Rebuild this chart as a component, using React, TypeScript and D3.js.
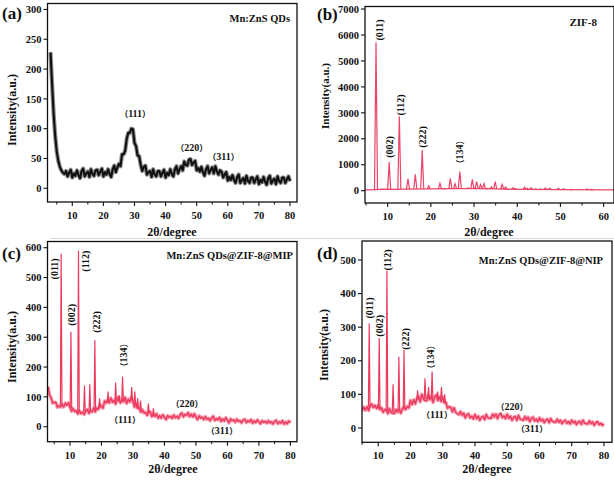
import React from "react";
import * as d3 from "d3";

const W = 614;
const H = 480;
const SERIF = "'Liberation Serif','DejaVu Serif','Times New Roman',serif";
const CJK = "'Noto Sans CJK SC','Liberation Serif',serif";

// ---------- (a) Mn:ZnS QDs : intensity sampled every 0.5 deg from 3 to 80 ----------
const aStart = 3;
const aStep = 0.5;
const aIntensity = [
  228, 175, 125, 88, 62, 46, 36, 30, 26, 24,
  29, 20, 26, 31, 18, 25, 21, 30, 22, 17,
  29, 33, 20, 25, 28, 19, 32, 24, 21, 30,
  31, 22, 28, 33, 20, 27, 23, 32, 24, 19,
  32, 38, 27, 35, 41, 37, 57, 57, 63, 83,
  93, 93, 100, 99, 76, 71, 55, 54, 39, 29,
  36, 38, 23, 27, 29, 19, 32, 23, 20, 29,
  29, 20, 26, 31, 18, 26, 22, 32, 24, 20,
  32, 37, 25, 32, 37, 30, 45, 39, 38, 48,
  49, 39, 43, 46, 30, 34, 28, 36, 27, 21,
  32, 37, 25, 31, 35, 25, 37, 28, 23, 30,
  28, 18, 23, 27, 13, 19, 14, 22, 14, 9,
  19, 23, 9, 14, 17, 8, 21, 12, 9, 18,
  18, 9, 15, 20, 7, 14, 10, 19, 11, 6,
  17, 21, 8, 13, 16, 7, 20, 12, 9, 18,
  18, 9, 15, 20, 12,
];
const aXTicks = [10, 20, 30, 40, 50, 60, 70, 80];
const aYTicks = [0, 50, 100, 150, 200, 250, 300];
const aLabels = [
  { text: "（111）", x: 30.2, y: 119.6, rot: false },
  { text: "（220）", x: 48.4, y: 62.6, rot: false },
  { text: "（311）", x: 58.6, y: 47.5, rot: false },
];

// ---------- (b) ZIF-8 : baseline + diffraction peaks [2theta, top, base] ----------
const bBaseline: [number, number][] = [
  [4.75, 30], [6, 30], [7, 40], [9, 55], [11, 50], [14, 60], [20, 70],
  [25, 80], [30, 80], [35, 70], [40, 50], [50, 40], [62.4, 30],
];
const bPeaks: [number, number, number][] = [
  [7.3, 5720, 40], [10.35, 1100, 50], [12.7, 2870, 55], [14.7, 460, 60],
  [16.4, 630, 65], [18.0, 1560, 65], [19.5, 190, 70], [22.1, 290, 75],
  [23.1, 70, 75], [24.5, 480, 80], [25.6, 270, 80], [26.7, 740, 80],
  [28.6, 110, 80], [29.6, 440, 80], [30.6, 350, 78], [31.5, 240, 76],
  [32.3, 270, 75], [33.0, 90, 74], [34.0, 150, 72], [34.9, 350, 70],
  [36.5, 240, 65], [37.3, 140, 62], [39.0, 110, 55], [39.6, 80, 52],
  [41.7, 140, 48], [42.3, 90, 48], [43.2, 110, 47], [44.3, 70, 46],
  [45.4, 70, 45], [46.5, 100, 44], [47.5, 90, 43], [49.5, 90, 41],
  [50.7, 80, 40], [52.5, 50, 38], [56.2, 70, 35], [57.2, 50, 34],
];
const bXTicks = [10, 20, 30, 40, 50, 60];
const bYTicks = [0, 1000, 2000, 3000, 4000, 5000, 6000, 7000];
const bLabels = [
  { text: "(011)", x: 7.99, y: 6193, rot: true },
  { text: "(002)", x: 10.3, y: 1684, rot: true },
  { text: "(112)", x: 12.85, y: 3303, rot: true },
  { text: "(222)", x: 17.94, y: 2070, rot: true },
  { text: "（134）", x: 26.5, y: 1491, rot: true },
];

// ---------- (c) Mn:ZnS QDs@ZIF-8@MIP : background every 0.5 deg from 3 to 80 ----------
const cStart = 3;
const cStep = 0.5;
const cIntensity = [
  134, 107, 97, 79, 82, 81, 65, 70, 66, 75,
  66, 79, 72, 80, 66, 52, 61, 51, 53, 43,
  53, 44, 49, 41, 52, 58, 45, 53, 50, 61,
  50, 62, 58, 74, 70, 62, 86, 80, 90, 80,
  96, 82, 88, 76, 93, 100, 80, 90, 84, 98,
  78, 92, 83, 100, 84, 66, 78, 62, 61, 49,
  57, 46, 48, 38, 47, 50, 34, 40, 35, 43,
  29, 37, 29, 40, 32, 24, 37, 31, 35, 28,
  39, 30, 35, 28, 40, 46, 33, 41, 38, 47,
  34, 42, 33, 43, 33, 24, 36, 29, 32, 24,
  34, 25, 28, 20, 30, 35, 21, 27, 23, 31,
  18, 26, 19, 30, 22, 13, 26, 20, 23, 15,
  25, 18, 20, 13, 22, 25, 14, 20, 16, 24,
  12, 19, 14, 23, 16, 10, 20, 15, 18, 12,
  20, 13, 16, 9, 18, 21, 10, 16, 12, 20,
  9, 16, 10, 19, 13,
];
const cPeaks: [number, number, number][] = [
  [7.2, 580, 72], [10.3, 318, 62], [12.7, 590, 50], [14.6, 138, 50],
  [16.3, 142, 50], [17.9, 290, 56], [19.4, 95, 62], [22.1, 118, 80],
  [24.5, 148, 82], [25.6, 105, 84], [26.7, 168, 86], [29.6, 133, 86],
  [30.6, 118, 72], [31.5, 95, 62], [32.4, 88, 58], [34.9, 78, 46],
  [36.5, 62, 40],
];
const cXTicks = [10, 20, 30, 40, 50, 60, 70, 80];
const cYTicks = [0, 100, 200, 300, 400, 500, 600];
const cLabels = [
  { text: "(011)", x: 4.93, y: 529, rot: true },
  { text: "(002)", x: 10.3, y: 375, rot: true },
  { text: "(112)", x: 14.8, y: 555, rot: true },
  { text: "(222)", x: 18.2, y: 351, rot: true },
  { text: "（134）", x: 26.9, y: 240, rot: true },
  { text: "（111）", x: 27.5, y: 12, rot: false },
  { text: "（220）", x: 47.2, y: 66, rot: false },
  { text: "（311）", x: 58.3, y: -24, rot: false },
];

// ---------- (d) Mn:ZnS QDs@ZIF-8@NIP : background every 0.5 deg from 5 to 80 ----------
const dStart = 5;
const dStep = 0.5;
const dIntensity = [
  51, 62, 53, 63, 52, 66, 71, 61, 67, 58,
  68, 55, 60, 47, 54, 55, 43, 57, 46, 44,
  43, 55, 47, 55, 44, 57, 63, 55, 64, 60,
  82, 70, 84, 72, 88, 94, 78, 100, 86, 82,
  81, 98, 84, 94, 76, 92, 98, 82, 92, 79,
  92, 75, 76, 59, 63, 62, 48, 60, 47, 43,
  40, 49, 38, 44, 30, 40, 42, 30, 35, 27,
  40, 28, 35, 23, 32, 35, 25, 40, 31, 29,
  29, 41, 33, 41, 28, 40, 43, 31, 36, 28,
  41, 29, 35, 23, 32, 34, 23, 37, 27, 25,
  23, 34, 25, 32, 19, 29, 32, 21, 26, 19,
  30, 21, 26, 16, 24, 26, 16, 28, 20, 18,
  17, 26, 17, 23, 13, 20, 23, 14, 19, 12,
  23, 15, 20, 10, 18, 20, 11, 23, 14, 13,
  12, 21, 13, 18, 8, 16, 19, 10, 14, 8,
  13,
];
const dPeaks: [number, number, number][] = [
  [7.2, 312, 62], [10.3, 268, 58], [12.7, 468, 50], [14.6, 130, 48],
  [16.4, 212, 50], [18.0, 232, 56], [22.2, 112, 84], [24.5, 148, 86],
  [25.6, 122, 86], [26.7, 168, 88], [28.4, 108, 90], [29.6, 122, 88],
  [30.6, 100, 76],
];
const dXTicks = [10, 20, 30, 40, 50, 60, 70, 80];
const dYTicks = [0, 100, 200, 300, 400, 500];
const dLabels = [
  { text: "(011)", x: 7.13, y: 357, rot: true },
  { text: "(002)", x: 10.2, y: 304, rot: true },
  { text: "(112)", x: 12.7, y: 500, rot: true },
  { text: "(222)", x: 18.3, y: 265, rot: true },
  { text: "（134）", x: 26.05, y: 211, rot: true },
  { text: "（111）", x: 28.2, y: 30, rot: false },
  { text: "（220）", x: 51.5, y: 53.6, rot: false },
  { text: "（311）", x: 57.7, y: -12, rot: false },
];

type Label = { text: string; x: number; y: number; rot: boolean };

type PanelCfg = {
  id: string;
  letter: string;
  letterX: number;
  letterY: number;
  title: string;
  titleX: number;
  titleY: number;
  titleSize: number;
  left: number;
  right: number;
  top: number;
  bottom: number;
  xDomain: [number, number];
  yDomain: [number, number];
  xTicks: number[];
  yTicks: number[];
  series: [number, number][];
  peaks: [number, number, number][];
  peakHalf: number;
  core: string;
  coreWidth: number;
  fringe: string | null;
  fringeWidth: number;
  labels: Label[];
  yTitleX: number;
  yTitleY: number;
  yTitleSize: number;
  xTitleX: number;
  xTitleY: number;
};

const sampled = (start: number, step: number, vals: number[]): [number, number][] =>
  vals.map((v, i) => [start + i * step, v]);

const panels: PanelCfg[] = [
  {
    id: "a", letter: "(a)", letterX: 2, letterY: 19,
    title: "Mn:ZnS QDs", titleX: 290, titleY: 22, titleSize: 10.5,
    left: 47.5, right: 297, top: 3.5, bottom: 202,
    xDomain: [2.03, 82.25], yDomain: [-23, 310],
    xTicks: aXTicks, yTicks: aYTicks,
    series: sampled(aStart, aStep, aIntensity), peaks: [], peakHalf: 0.25,
    core: "#111111", coreWidth: 2.1, fringe: "#8f8f8f", fringeWidth: 4.2,
    labels: aLabels,
    yTitleX: 12, yTitleY: 110, yTitleSize: 12, xTitleX: 172, xTitleY: 236,
  },
  {
    id: "b", letter: "(b)", letterX: 317, letterY: 20,
    title: "ZIF-8", titleX: 597, titleY: 26, titleSize: 11,
    left: 365, right: 614, top: 6.5, bottom: 203,
    xDomain: [4.75, 62.4], yDomain: [-474, 7098],
    xTicks: bXTicks, yTicks: bYTicks,
    series: bBaseline, peaks: bPeaks, peakHalf: 0.35,
    core: "#ea4468", coreWidth: 1.3, fringe: null, fringeWidth: 0,
    labels: bLabels,
    yTitleX: 324.5, yTitleY: 96, yTitleSize: 11, xTitleX: 489, xTitleY: 236,
  },
  {
    id: "c", letter: "(c)", letterX: 2, letterY: 259,
    title: "Mn:ZnS QDs@ZIF-8@MIP", titleX: 293, titleY: 259, titleSize: 10.5,
    left: 47.5, right: 297, top: 241.5, bottom: 441.7,
    xDomain: [2.86, 82.1], yDomain: [-50.3, 620.8],
    xTicks: cXTicks, yTicks: cYTicks,
    series: sampled(cStart, cStep, cIntensity), peaks: cPeaks, peakHalf: 0.25,
    core: "#ec3a5f", coreWidth: 1.4, fringe: "#f6a0b2", fringeWidth: 3.6,
    labels: cLabels,
    yTitleX: 12, yTitleY: 347, yTitleSize: 12, xTitleX: 173, xTitleY: 473,
  },
  {
    id: "d", letter: "(d)", letterX: 317, letterY: 259,
    title: "Mn:ZnS QDs@ZIF-8@NIP", titleX: 603, titleY: 264, titleSize: 10.5,
    left: 362, right: 612, top: 241, bottom: 442.3,
    xDomain: [4.96, 82.5], yDomain: [-42.6, 556.5],
    xTicks: dXTicks, yTicks: dYTicks,
    series: sampled(dStart, dStep, dIntensity), peaks: dPeaks, peakHalf: 0.25,
    core: "#ec3a5f", coreWidth: 1.4, fringe: "#f6a0b2", fringeWidth: 3.6,
    labels: dLabels,
    yTitleX: 324, yTitleY: 345, yTitleSize: 12, xTitleX: 487, xTitleY: 473,
  },
];

function LabelText({ text, size }: { text: string; size: number }) {
  const chars = Array.from(text);
  return (
    <>
      {chars.map((ch, i) =>
        ch === "（" || ch === "）" ? (
          <tspan key={i} fontFamily={CJK} fontSize={size * 0.85}>
            {ch}
          </tspan>
        ) : (
          <tspan key={i}>{ch}</tspan>
        )
      )}
    </>
  );
}

function Panel({ p }: { p: PanelCfg }) {
  const x = d3.scaleLinear().domain(p.xDomain).range([p.left, p.right]);
  const y = d3.scaleLinear().domain(p.yDomain).range([p.bottom, p.top]);
  const line = d3
    .line<[number, number]>()
    .x((d) => x(d[0]))
    .y((d) => y(d[1]));
  const mainPath = line(p.series) || "";
  const peakPaths = p.peaks.map(
    ([px, top, base]) =>
      line([
        [px - p.peakHalf, base],
        [px, top],
        [px + p.peakHalf, base],
      ]) || ""
  );
  const xStep = p.xTicks[1] - p.xTicks[0];
  const xMinor = p.xTicks
    .map((t) => t - xStep / 2)
    .concat([p.xTicks[p.xTicks.length - 1] + xStep / 2])
    .filter((t) => t > p.xDomain[0] && t < p.xDomain[1]);
  const clipId = `clip-${p.id}`;
  const tickFont = 10.5;
  return (
    <g>
      <defs>
        <clipPath id={clipId}>
          <rect x={p.left} y={p.top} width={p.right - p.left} height={p.bottom - p.top} />
        </clipPath>
      </defs>
      <g clipPath={`url(#${clipId})`}>
        {p.fringe && (
          <path d={mainPath} fill="none" stroke={p.fringe} strokeWidth={p.fringeWidth} strokeLinejoin="round" />
        )}
        <path d={mainPath} fill="none" stroke={p.core} strokeWidth={p.coreWidth} strokeLinejoin="round" />
        {peakPaths.map((d, i) => (
          <path key={i} d={d} fill="none" stroke={p.core} strokeWidth={1.2} strokeLinejoin="miter" />
        ))}
      </g>
      <rect
        x={p.left}
        y={p.top}
        width={p.right - p.left}
        height={p.bottom - p.top}
        fill="none"
        stroke="#111"
        strokeWidth={1.3}
      />
      {p.xTicks.map((t) => (
        <g key={`xt${t}`}>
          <line x1={x(t)} x2={x(t)} y1={p.bottom} y2={p.bottom + 4} stroke="#111" strokeWidth={1.1} />
          <text
            x={x(t)}
            y={p.bottom + 17}
            textAnchor="middle"
            fontFamily={SERIF}
            fontWeight="bold"
            fontSize={tickFont}
            fill="#111"
          >
            {t}
          </text>
        </g>
      ))}
      {xMinor.map((t) => (
        <line key={`xm${t}`} x1={x(t)} x2={x(t)} y1={p.bottom} y2={p.bottom + 2.5} stroke="#111" strokeWidth={1} />
      ))}
      {p.yTicks.map((t) => (
        <g key={`yt${t}`}>
          <line x1={p.left - 4} x2={p.left} y1={y(t)} y2={y(t)} stroke="#111" strokeWidth={1.1} />
          <text
            x={p.left - 6}
            y={y(t)}
            dy="0.35em"
            textAnchor="end"
            fontFamily={SERIF}
            fontWeight="bold"
            fontSize={tickFont}
            fill="#111"
          >
            {t}
          </text>
        </g>
      ))}
      <text
        x={p.xTitleX}
        y={p.xTitleY}
        textAnchor="middle"
        fontFamily={SERIF}
        fontWeight="bold"
        fontSize={12}
        fill="#111"
      >
        2θ/degree
      </text>
      <text
        transform={`translate(${p.yTitleX},${p.yTitleY}) rotate(-90)`}
        textAnchor="middle"
        dominantBaseline="central"
        fontFamily={SERIF}
        fontWeight="bold"
        fontSize={p.yTitleSize}
        fill="#111"
      >
        Intensity(a.u.)
      </text>
      <text x={p.letterX} y={p.letterY} fontFamily={SERIF} fontWeight="bold" fontSize={17} fill="#111">
        {p.letter}
      </text>
      <text
        x={p.titleX}
        y={p.titleY}
        textAnchor="end"
        fontFamily={SERIF}
        fontWeight="bold"
        fontSize={p.titleSize}
        fill="#111"
      >
        {p.title}
      </text>
      {p.labels.map((l, i) =>
        l.rot ? (
          <text
            key={i}
            transform={`translate(${x(l.x)},${y(l.y)}) rotate(-90)`}
            textAnchor="middle"
            dominantBaseline="central"
            fontFamily={SERIF}
            fontWeight="bold"
            fontSize={10}
            fill="#111"
          >
            <LabelText text={l.text} size={10} />
          </text>
        ) : (
          <text
            key={i}
            x={x(l.x)}
            y={y(l.y)}
            textAnchor="middle"
            fontFamily={SERIF}
            fontWeight="bold"
            fontSize={10}
            fill="#111"
          >
            <LabelText text={l.text} size={10} />
          </text>
        )
      )}
    </g>
  );
}

export default function App() {
  return (
    <svg
      width={W}
      height={H}
      viewBox={`0 0 ${W} ${H}`}
      style={{ position: "absolute", left: 0, top: 0, background: "#fff" }}
    >
      <rect x={0} y={0} width={W} height={H} fill="#fff" />
      <line x1={50} x2={614} y1={238.5} y2={238.5} stroke="#d8d8d8" strokeWidth={1} />
      {panels.map((p) => (
        <Panel key={p.id} p={p} />
      ))}
    </svg>
  );
}
